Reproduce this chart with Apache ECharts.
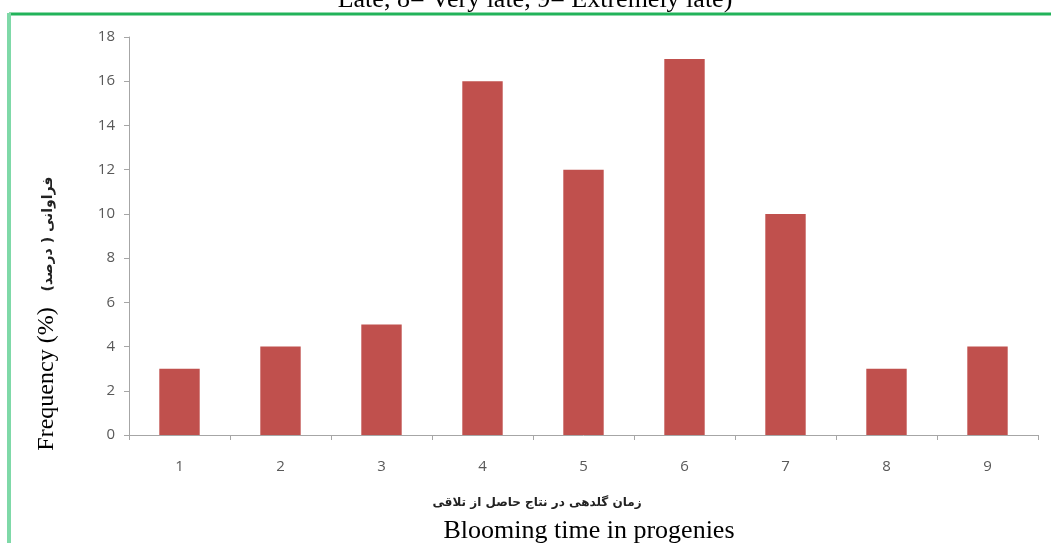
<!DOCTYPE html>
<html>
<head>
<meta charset="utf-8">
<style>
  html, body { margin: 0; padding: 0; background: #fff; }
  #chart { width: 1051px; height: 543px; }
</style>
<script src="https://cdn.jsdelivr.net/npm/echarts@6/dist/echarts.min.js"></script>
</head>
<body>
<div id="chart"></div>
<script>
// Blooming time classes (1 = extremely early ... 9 = extremely late)
const categories = ['1', '2', '3', '4', '5', '6', '7', '8', '9'];
// Share of progenies in each class, percent
const frequency = [3, 4, 5, 16, 12, 17, 10, 3, 4];
// Y axis range
const yMin = 0, yMax = 18, yStep = 2;

const captionText = 'Late, 8= Very late, 9= Extremely late)';
const xNameFa = 'زمان گلدهی در نتاج حاصل از تلاقی';
const xNameEn = 'Blooming time in progenies';
const yNameFa = 'فراوانی ( درصد)';
const yNameEn = 'Frequency (%)';

const chart = echarts.init(document.getElementById('chart'), null, { renderer: 'canvas' });
const tickColor = '#595959';
const axisColor = '#a6a6a6';
const serif = '"Liberation Serif", "Times New Roman", serif';

chart.setOption({
  animation: false,
  backgroundColor: '#ffffff',
  grid: { left: 129, right: 13, top: 37, bottom: 108, containLabel: false },
  xAxis: {
    type: 'category',
    data: categories,
    boundaryGap: true,
    axisLine: { lineStyle: { color: axisColor, width: 1 } },
    axisTick: { show: true, alignWithLabel: false, length: 5, inside: false, lineStyle: { color: axisColor } },
    axisLabel: { color: tickColor, fontFamily: 'Open Sans, Noto Sans, sans-serif', fontSize: 15, margin: 24 }
  },
  yAxis: {
    type: 'value',
    min: yMin, max: yMax, interval: yStep,
    axisLine: { show: true, lineStyle: { color: axisColor, width: 1 } },
    axisTick: { show: true, length: 5, lineStyle: { color: axisColor } },
    splitLine: { show: false },
    axisLabel: { color: tickColor, fontFamily: 'Open Sans, Noto Sans, sans-serif', fontSize: 15, margin: 14 }
  },
  series: [{
    type: 'bar',
    data: frequency,
    barWidth: '40%',
    itemStyle: { color: '#c0504d' }
  }],
  graphic: [
    // frame around the figure
    { type: 'line', shape: { x1: 9, y1: 14, x2: 1051, y2: 14 }, style: { stroke: '#22b35a', lineWidth: 3 } },
    { type: 'line', shape: { x1: 9, y1: 13, x2: 9, y2: 543 }, style: { stroke: '#7fd9a8', lineWidth: 4 } },
    // caption continued from above the frame
    { type: 'text', x: 535, y: 13, style: { text: captionText, font: '26px ' + serif, fill: '#000', align: 'center', verticalAlign: 'bottom' } },
    // x axis names
    { type: 'text', x: 537, y: 503, style: { text: xNameFa, font: 'bold 12px "DejaVu Sans", sans-serif', fill: '#222', align: 'center', verticalAlign: 'middle' } },
    { type: 'text', x: 589, y: 531, style: { text: xNameEn, font: '26px ' + serif, fill: '#000', align: 'center', verticalAlign: 'middle' } },
    // y axis names
    { type: 'text', x: 47, y: 379, rotation: Math.PI / 2, style: { text: yNameEn, font: '24px ' + serif, fill: '#000', align: 'center', verticalAlign: 'middle' } },
    { type: 'text', x: 48, y: 234, rotation: Math.PI / 2, style: { text: yNameFa, font: 'bold 14px "DejaVu Sans", sans-serif', fill: '#222', align: 'center', verticalAlign: 'middle' } }
  ]
});
</script>
</body>
</html>
